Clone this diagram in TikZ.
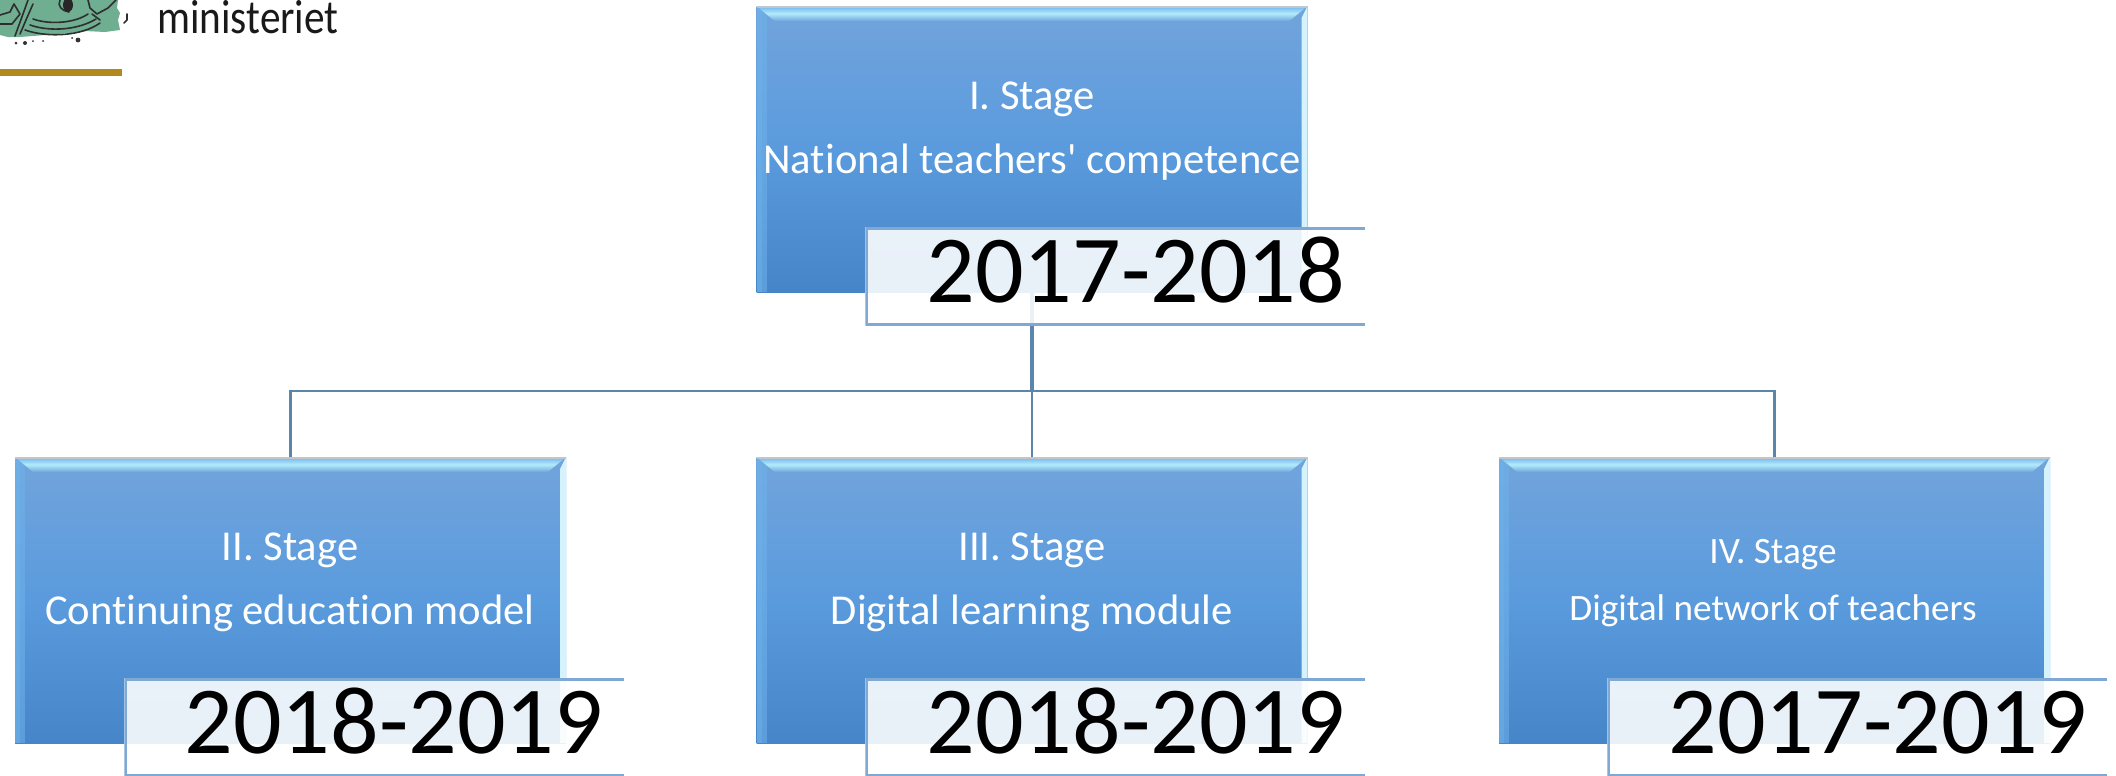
\documentclass[tikz,border=0pt]{standalone}
\usepackage{fontspec}
\setmainfont[Ligatures=NoCommon]{Carlito}
\definecolor{conn}{HTML}{5A86AC}
\definecolor{bevhi}{HTML}{B3EBFB}
\definecolor{bevlo}{HTML}{6EB2EA}
\definecolor{bevend}{HTML}{6FA6DE}
\definecolor{bevright}{HTML}{D5F3FC}
\definecolor{rim}{HTML}{BFC6CE}
\definecolor{dateline}{HTML}{7FA8D4}
\definecolor{logogreen}{HTML}{6FAE91}
\definecolor{logogold}{HTML}{B08A1E}
\definecolor{HexTop}{HTML}{72A4DC}
\definecolor{HexMid}{HTML}{5A9BDD}
\definecolor{HexBot}{HTML}{4585C8}
\tikzset{
  x=0.5pt,y=-0.5pt,
  stagebox/.style={rectangle,minimum width=275.5pt,minimum height=143pt,inner sep=0pt,
    top color=HexTop,bottom color=HexBot,middle color=HexMid,
    path picture={
      \fill[bevlo,opacity=.55] (path picture bounding box.north west) rectangle ([xshift=5pt]path picture bounding box.south west);
      \fill[bevlo,opacity=.45] (path picture bounding box.north west) rectangle ([xshift=2.5pt]path picture bounding box.south west);
      \fill[bevright] (path picture bounding box.north east) -- ([xshift=-3pt,yshift=-6pt]path picture bounding box.north east)
        -- ([xshift=-3pt]path picture bounding box.south east) -- (path picture bounding box.south east) -- cycle;
      \shade[top color=bevlo,bottom color=bevend,middle color=bevhi] (path picture bounding box.north west) -- (path picture bounding box.north east)
        -- ([xshift=-9pt,yshift=-7.5pt]path picture bounding box.north east) -- ([xshift=9pt,yshift=-7.5pt]path picture bounding box.north west) -- cycle;
      \draw[rim,line width=1.6pt] (path picture bounding box.north west) -- (path picture bounding box.north east);
    }},
  datebox/.style={rectangle,minimum width=250pt,minimum height=49pt,inner sep=0pt,
    fill=white,fill opacity=.88,
    path picture={
      \draw[dateline,line width=2.6pt] (path picture bounding box.north east) -- (path picture bounding box.north west)
        -- (path picture bounding box.south west) -- (path picture bounding box.south east);
    }},
  datetext/.style={font=\fontsize{48}{48}\selectfont,text=black,inner sep=0pt,anchor=base west},
  stagetext/.style={text=white,align=center,inner sep=0pt,font=\fontsize{21.3}{32}\selectfont},
  stagesmall/.style={stagetext,font=\fontsize{18.6}{28.5}\selectfont},
  connector/.style={draw=conn,line width=1.4pt},
  ink/.style={draw=black!82,line width=0.8pt,line cap=round,line join=round},
}
\begin{document}
\begin{tikzpicture}
\useasboundingbox (0,0) rectangle (2116,776);
% logo
\fill[logogreen] (0,0) -- (118,0) -- (117,8) -- (120,13) -- (118,20) -- (120,30) -- (105,32) -- (85,31) -- (70,33) -- (45,35) -- (20,37) -- (8,37) -- (0,35) -- cycle;
\draw[ink] (33,19) .. controls (50,25) and (75,23) .. (88,14);
\draw[ink] (30,25) .. controls (50,32) and (78,30) .. (96,19);
\draw[ink] (25,30) .. controls (48,38) and (82,36) .. (100,23);
\draw[ink] (28,0) -- (23,14) -- (15,36);
\draw[ink] (33,4) -- (26,20) -- (20,34);
\draw[ink] (0,15) -- (10,12) -- (14,4) -- (20,14) -- (12,24) -- (0,24);
\draw[ink] (60,0) .. controls (57,6) and (62,11) .. (69,12);
\fill[black!85] (68,5) ellipse (5 and 7);
\draw[ink] (88,0) -- (90,8) -- (97,14) -- (108,8) -- (116,0);
\draw[ink] (92,14) -- (100,20);
\fill[black!80] (16,43) circle (1.5) (25,43) circle (2) (33,41) circle (1) (43,41) circle (1) (78,40) circle (2.4) (72,38) circle (1);
\draw[ink] (127,14) -- (127,20) -- (124,23);
\node[inner sep=0pt,anchor=base west,font=\fontsize{24}{24}\selectfont,text=black!90,xscale=.86] (mini) at (157,33) {ministeriet};
\fill[logogold] (0,69) rectangle (122,76);
% stage boxes
\node[stagebox] (t) at (1032,149) {};
\node[stagebox] (b1) at (290.5,600) {};
\node[stagebox] (b2) at (1032,600) {};
\node[stagebox] (b3) at (1774.5,600) {};
% connectors
\coordinate (bus) at (1032,391);
\draw[connector,line width=1.9pt] (t.south) -- (bus);
\draw[connector] (bus) -- (b2.north);
\draw[connector] (bus) -| (b1.north);
\draw[connector] (bus) -| (b3.north);
% date boxes
\node[datebox,anchor=north west] (d0) at (865,227) {};
\node[datebox,anchor=north west] (d1) at (124,678) {};
\node[datebox,anchor=north west] (d2) at (865,678) {};
\node[datebox,anchor=north west] (d3) at (1607,678) {};
\node[datetext] (d0t) at (926,302) {2017-2018};
\node[datetext] (d1t) at (184,753) {2018-2019};
\node[datetext] (d2t) at (926,753) {2018-2019};
\node[datetext] (d3t) at (1668,753) {2017-2019};
% stage texts
\node[stagetext] (t0) at (1032,131) {I. Stage\\National teachers\textquotesingle{} competence};
\node[stagetext] (t1) at (290,582) {II. Stage\\Continuing education model};
\node[stagetext] (t2) at (1032,582) {III. Stage\\Digital learning module};
\node[stagesmall] (t3) at (1773,583) {IV. Stage\\Digital network of teachers};
\end{tikzpicture}
\end{document}
